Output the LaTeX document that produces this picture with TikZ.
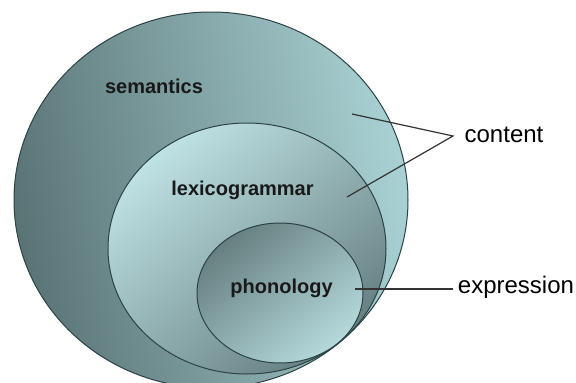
\documentclass[tikz,border=0pt]{standalone}
\usepackage{fontspec}
\setmainfont{Liberation Sans}
\usetikzlibrary{shapes.geometric}
\definecolor{edge}{HTML}{2C4244}
\definecolor{lineg}{HTML}{333333}
\definecolor{semdark}{HTML}{5A7476}
\definecolor{semlight}{HTML}{A9D1D3}
\definecolor{lexlight}{HTML}{BFE2E4}
\definecolor{lexdark}{HTML}{668082}
\definecolor{phdark}{HTML}{677F81}
\definecolor{phlight}{HTML}{B5DADC}
\tikzset{
  layer/.style={ellipse, draw=edge, line width=1pt, inner sep=0pt},
  inlabel/.style={font=\fontsize{20}{24}\selectfont\bfseries, text=black!90, anchor=base, inner sep=0pt},
  outlabel/.style={font=\fontsize{24}{28}\selectfont, text=black, anchor=base, inner sep=0pt},
  pointer/.style={draw=lineg, line width=1.2pt}
}
\begin{document}
\begin{tikzpicture}[x=1pt,y=-1pt]
\useasboundingbox (0,0) rectangle (576,383);
\clip (0,0) rectangle (576,383);
\fill[white] (0,0) rectangle (576,383);
\node[layer, minimum width=394pt, minimum height=376pt, top color=semdark, bottom color=semlight, shading angle=100] (sem) at (211,200) {};
\node[layer, minimum width=278pt, minimum height=251pt, top color=lexlight, bottom color=lexdark, shading angle=40] (lex) at (247,248.5) {};
\node[layer, minimum width=166pt, minimum height=140pt, top color=phdark, bottom color=phlight, shading angle=40] (pho) at (280,293) {};
\node[inlabel] (semt) at (154,93) {semantics};
\node[inlabel] (lext) at (242.5,195) {lexicogrammar};
\node[inlabel] (phot) at (281.5,293) {phonology};
\node[outlabel] (cont) at (504,142) {content};
\node[outlabel] (expr) at (516,293) {expression};
\coordinate (apex) at (453,136);
\coordinate (csem) at (352,114);
\coordinate (clex) at (347,197);
\coordinate (epho) at (355,289);
\coordinate (eend) at (453,289);
\draw[pointer] (csem) -- (apex) -- (clex);
\draw[pointer] (epho) -- (eend);
\end{tikzpicture}
\end{document}
